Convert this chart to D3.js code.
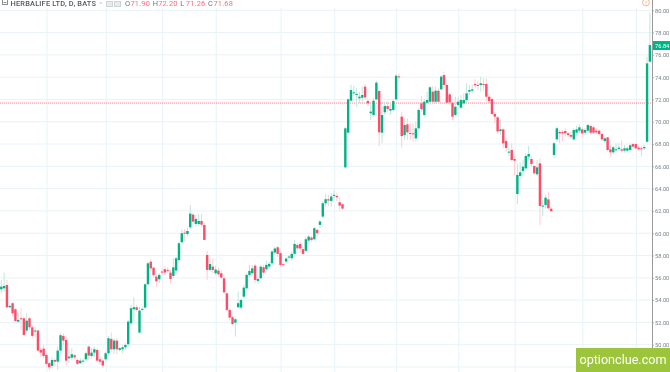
<!DOCTYPE html>
<html>
<head>
<meta charset="utf-8">
<script src="https://cdn.jsdelivr.net/npm/d3@7"></script>
<style>
  html, body { margin: 0; padding: 0; background: #fff; overflow: hidden; }
  svg { display: block; filter: blur(0.3px); }
  text { font-family: Roboto, sans-serif; }
</style>
</head>
<body>
<svg id="chart" width="670" height="372"></svg>
<script>
// Daily candles, oldest first
const opens = [
  54.97,55.06,55.36,53.36,53.72,53.18,52.07,52.37,52.37,51.27,
  52.37,51.56,51.18,51.27,49.53,49.65,49.08,48.34,48.10,48.63,
  48.48,49.47,50.79,50.43,48.78,48.84,49.05,48.63,48.34,48.48,
  48.69,49.83,48.99,49.29,49.53,48.69,48.57,48.69,49.23,50.52,
  49.59,50.37,49.53,49.59,49.77,50.04,51.92,53.18,53.36,51.09,
  53.15,53.33,55.42,57.45,56.91,56.11,55.87,56.56,56.77,56.71,
  56.47,56.17,56.65,57.60,59.19,60.05,59.93,60.53,61.67,60.83,
  60.83,61.10,60.74,58.05,56.71,57.00,56.41,56.65,56.41,55.96,
  54.61,53.12,52.46,51.98,53.36,53.33,54.31,55.06,56.26,56.41,
  57.09,55.72,55.96,56.95,56.77,57.01,57.31,58.27,58.74,58.21,
  57.22,57.46,57.82,57.76,58.15,58.95,59.04,58.57,58.42,59.34,
  59.61,59.46,60.30,60.75,61.49,62.69,63.05,62.90,63.35,63.35,
  62.78,62.60,65.91,69.02,71.89,72.55,72.40,72.10,72.16,73.15,
  71.86,70.76,70.61,72.01,72.76,69.02,70.85,71.41,71.00,71.06,
  72.01,74.07,70.46,68.81,69.77,68.99,68.96,68.51,69.41,71.65,
  70.61,71.71,71.80,72.70,71.80,72.79,72.91,74.19,73.30,72.46,
  71.71,70.61,71.50,71.26,71.65,71.95,72.70,72.79,73.39,73.30,
  73.30,73.39,73.39,72.25,72.04,70.70,70.40,69.17,69.32,68.28,
  67.23,67.47,66.66,63.52,65.14,65.58,65.82,66.87,66.66,66.03,
  65.29,66.27,62.39,62.54,63.04,62.20,67.02,68.42,69.08,69.08,
  69.17,68.96,68.81,68.42,69.02,69.20,69.32,69.02,69.20,69.62,
  69.50,69.20,69.20,68.90,68.27,68.60,67.53,67.26,67.47,67.56,
  67.53,67.41,67.41,67.47,68.00,68.00,67.68,67.62,67.62,68.21,
  75.39
]
const highs = [
  55.81,56.47,55.81,53.57,53.87,53.27,52.82,53.27,52.52,52.82,
  52.52,51.68,51.62,51.33,49.68,49.98,49.23,48.49,48.87,48.78,
  49.83,51.03,51.03,50.67,49.68,49.68,49.17,48.78,48.78,48.78,
  49.38,49.98,49.68,49.83,49.65,48.93,48.78,49.38,50.79,51.09,
  50.58,50.58,49.83,49.98,50.13,52.22,53.57,54.25,53.57,53.42,
  53.42,55.51,57.45,57.66,57.00,56.26,56.41,56.85,57.06,56.94,
  56.71,57.75,57.90,59.25,60.35,60.35,60.53,62.53,61.79,61.64,
  61.73,61.73,60.89,58.41,57.75,57.75,57.06,56.94,56.71,56.05,
  54.67,53.27,52.58,52.37,54.76,54.16,55.36,56.41,57.15,57.15,
  57.24,56.05,57.16,57.16,57.55,57.46,58.50,58.80,58.86,58.36,
  57.37,57.85,58.06,58.36,59.40,59.10,59.25,58.74,59.70,59.85,
  59.76,60.60,60.45,61.20,62.84,63.53,63.44,63.59,63.83,63.59,
  63.23,62.69,69.56,72.10,73.30,73.21,73.00,72.70,73.15,73.39,
  72.10,71.65,72.10,73.69,72.85,71.35,71.80,71.80,71.71,72.01,
  74.28,74.28,70.91,70.31,70.31,69.86,69.86,70.01,71.21,72.31,
  72.01,72.70,73.21,73.21,73.15,73.00,74.19,74.49,73.45,72.61,
  71.80,72.25,72.25,72.40,72.55,73.45,73.30,73.30,73.81,73.69,
  74.05,73.90,73.90,72.55,72.19,70.91,70.52,70.16,69.41,68.51,
  67.71,68.07,66.87,66.27,66.33,66.57,67.17,67.83,66.87,66.12,
  66.57,66.72,62.98,63.43,63.73,62.40,68.21,69.56,69.26,69.26,
  69.41,69.11,69.11,69.41,69.62,69.77,69.50,69.44,69.80,69.74,
  69.68,69.41,69.32,69.02,68.66,68.66,67.92,67.83,68.07,68.07,
  68.30,67.92,67.77,68.07,68.12,68.12,67.83,67.83,67.92,75.84,
  79.72
]
const lows = [
  54.61,54.76,53.27,53.27,52.52,52.07,51.92,51.33,50.79,51.03,
  51.33,50.58,50.67,49.38,48.93,48.78,48.04,47.68,47.89,48.04,
  47.74,49.23,49.98,48.19,48.34,48.63,48.69,48.19,48.28,48.34,
  48.48,48.63,48.78,48.93,48.48,48.19,47.89,48.48,49.08,49.38,
  49.17,49.17,49.38,49.23,49.53,49.83,51.77,52.07,52.97,51.03,
  52.97,53.27,55.36,56.56,56.05,55.21,55.51,56.17,56.26,56.41,
  55.45,55.96,56.41,57.45,59.10,59.25,59.70,60.35,60.74,60.59,
  60.65,60.59,59.40,55.81,56.56,56.41,56.26,56.11,55.87,54.55,
  52.97,52.16,51.77,50.73,53.27,53.18,54.16,54.91,56.05,56.26,
  55.51,55.51,55.87,56.26,56.56,56.77,57.16,58.21,57.85,57.01,
  57.01,57.25,57.67,57.55,58.03,58.50,58.27,58.03,58.27,59.22,
  59.25,59.34,59.70,60.45,61.35,62.39,62.45,62.39,63.05,62.84,
  62.03,62.09,65.82,68.96,71.80,72.31,71.35,71.65,71.80,72.01,
  71.41,70.16,70.46,71.89,67.83,68.07,70.61,70.91,70.61,70.91,
  71.89,73.60,67.68,68.37,68.37,68.37,68.22,68.22,69.26,70.91,
  70.46,71.59,71.50,71.65,71.65,71.65,72.85,73.00,71.65,71.50,
  70.16,70.46,71.20,71.12,71.50,71.80,72.40,72.55,73.00,72.85,
  72.70,72.79,71.89,71.65,70.61,69.86,68.90,68.81,67.62,67.32,
  66.93,66.42,65.23,62.63,64.93,65.23,65.67,66.63,65.97,65.23,
  65.14,60.74,61.55,62.24,62.09,61.90,66.72,68.21,68.07,68.21,
  68.66,68.60,68.51,68.30,68.81,68.96,68.60,68.81,69.02,68.87,
  68.90,68.90,68.72,68.30,68.12,67.32,66.87,67.08,67.32,67.41,
  67.23,67.23,67.29,67.32,67.62,67.47,67.41,66.93,67.47,68.07,
  75.24
]
const closes = [
  55.21,55.27,53.36,53.48,52.82,52.13,52.22,52.31,50.88,52.16,
  51.56,50.79,51.27,49.47,49.29,48.99,48.28,47.98,48.63,48.48,
  49.47,50.85,50.37,48.57,48.93,49.14,48.87,48.28,48.57,48.57,
  49.23,49.02,49.29,49.59,48.57,48.48,48.13,49.23,50.58,49.59,
  50.37,49.59,49.68,49.77,49.98,52.07,53.27,53.36,53.12,53.06,
  53.21,55.42,57.30,56.85,56.26,55.69,56.26,56.47,56.47,56.62,
  55.90,56.94,57.75,59.10,60.00,59.96,60.20,61.76,61.04,61.28,
  61.10,60.77,59.40,56.71,57.24,56.71,56.74,56.32,56.02,54.70,
  53.12,52.43,51.86,52.28,53.72,54.01,55.12,56.26,56.62,56.85,
  55.81,55.90,57.00,56.47,57.16,57.25,58.36,58.63,58.15,57.16,
  57.13,57.73,57.91,58.15,59.04,58.65,58.63,58.15,59.46,59.70,
  59.40,60.45,60.00,61.05,62.69,63.05,62.93,63.29,63.44,63.23,
  62.48,62.21,69.41,72.01,72.85,72.64,72.50,72.25,72.40,72.19,
  71.65,70.91,71.89,73.51,69.05,70.61,71.41,71.15,71.15,71.86,
  74.13,73.99,68.72,69.71,69.05,68.90,68.90,69.41,71.06,71.12,
  71.80,71.95,73.09,71.80,72.79,71.80,74.05,73.30,71.71,71.74,
  70.46,71.35,71.80,71.95,71.95,72.55,72.85,72.91,73.27,73.21,
  73.45,73.36,72.25,71.86,70.70,70.46,69.14,69.32,68.07,67.65,
  67.32,66.57,66.51,65.23,65.47,65.97,66.93,67.11,66.21,65.38,
  65.91,62.45,62.48,63.19,62.24,61.98,68.07,69.41,68.96,68.96,
  68.96,68.81,68.66,69.26,69.32,69.50,68.96,69.26,69.71,69.02,
  69.02,69.05,68.90,68.42,68.51,67.47,67.26,67.71,67.53,67.68,
  67.41,67.62,67.62,67.89,67.77,67.62,67.53,67.53,67.74,75.24,
  76.88
]

const priceTicks = [48, 50, 52, 54, 56, 58, 60, 62, 64, 66, 68, 70, 72, 74, 76, 78, 80]
const monthStarts = [16, 37, 57, 76, 99, 118, 140, 162, 182, 206, 225] // candle index of each vertical grid line
const lastClose = 71.68 // dotted line
const lastPrice = 76.84 // green label on the axis
const legendTitle = 'HERBALIFE LTD, D, BATS'
const legendValues = [['O', '71.90'], ['H', '72.20'], ['L', '71.26'], ['C', '71.68']]

const upColor = '#00b385'
const downColor = '#ff4a68'
const upWick = '#bfe6dc'
const downWick = '#ffcdd5'
const gridColor = '#e8f3f7'
const bodyWidth = 2.4

const svg = d3.select('#chart')

const x = d3.scaleLinear().domain([0, opens.length - 1]).range([1.3, 649.9])
const y = d3.scaleLinear().domain([50, 80]).range([344.7, 10.3])

// Grid
svg.append('g').selectAll('line')
  .data(priceTicks)
  .enter().append('line')
    .attr('x1', 0).attr('x2', 652)
    .attr('y1', (d) => y(d)).attr('y2', (d) => y(d))
    .attr('stroke', gridColor)

svg.append('g').selectAll('line')
  .data(monthStarts)
  .enter().append('line')
    .attr('x1', (d) => x(d) + 0.6).attr('x2', (d) => x(d) + 0.6)
    .attr('y1', 8).attr('y2', 372)
    .attr('stroke', gridColor)

// Dotted line at the last close of the cursor bar
svg.append('line')
  .attr('x1', 0).attr('x2', 652)
  .attr('y1', y(lastClose)).attr('y2', y(lastClose))
  .attr('stroke', downColor)
  .attr('stroke-opacity', 0.7)
  .attr('stroke-dasharray', '1 1')

// Candles
const candles = svg.append('g').selectAll('g')
  .data(d3.range(opens.length))
  .enter().append('g')

candles.append('line')
  .attr('x1', (i) => x(i)).attr('x2', (i) => x(i))
  .attr('y1', (i) => y(highs[i])).attr('y2', (i) => y(lows[i]))
  .attr('stroke', (i) => closes[i] >= opens[i] ? upWick : downWick)

candles.append('rect')
  .attr('x', (i) => x(i) - bodyWidth / 2)
  .attr('width', bodyWidth)
  .attr('y', (i) => y(Math.max(opens[i], closes[i])))
  .attr('height', (i) => Math.max(1, Math.abs(y(opens[i]) - y(closes[i]))))
  .attr('fill', (i) => closes[i] >= opens[i] ? upColor : downColor)

// Price axis
const axis = d3.axisRight(y)
  .tickValues(priceTicks.filter((d) => d >= 50))
  .tickFormat(d3.format('.2f'))
  .tickSize(2)
  .tickPadding(1)

const axisG = svg.append('g')
  .attr('transform', 'translate(652,0)')
  .call(axis)
axisG.select('.domain').remove()
axisG.selectAll('line').attr('stroke', '#b5b5b5')
axisG.selectAll('text')
  .attr('fill', '#76828a')
  .style('font-size', '5.7px')

svg.append('line')
  .attr('x1', 652.5).attr('x2', 652.5)
  .attr('y1', 0).attr('y2', 372)
  .attr('stroke', '#9a9a9a')

svg.append('rect')
  .attr('x', 653).attr('width', 17)
  .attr('y', y(lastPrice) - 4.5).attr('height', 9)
  .attr('fill', upColor)
svg.append('text')
  .attr('x', 655).attr('y', y(lastPrice) + 2.1)
  .attr('fill', '#fff')
  .style('font-size', '5.7px')
  .text(d3.format('.2f')(lastPrice))

// Orange marker cut by the top edge
svg.append('circle')
  .attr('cx', 646).attr('cy', 2.5).attr('r', 3.4)
  .attr('fill', '#fff').attr('stroke', '#f6b78a')
svg.append('text')
  .attr('x', 646).attr('y', 5)
  .attr('text-anchor', 'middle')
  .attr('fill', '#f0a06a')
  .style('font-size', '6px')
  .text('!')

// Legend strip
svg.append('rect')
  .attr('x', 2.5).attr('y', -0.5).attr('width', 5).attr('height', 5)
  .attr('fill', 'none').attr('stroke', '#8a8f94')
svg.append('line')
  .attr('x1', 3.5).attr('x2', 6.5).attr('y1', 2.5).attr('y2', 2.5)
  .attr('stroke', '#8a8f94')

svg.append('text')
  .attr('x', 10.5).attr('y', 6)
  .attr('fill', '#4f5860')
  .style('font-size', '7.4px')
  .style('font-weight', 500)
  .style('letter-spacing', '0.2px')
  .text(legendTitle)

svg.append('path')
  .attr('d', 'M99 2.5h3.5l-1.75 1.6z')
  .attr('fill', '#c4c8cc')

svg.append('g').selectAll('rect')
  .data([106, 114])
  .enter().append('rect')
    .attr('x', (d) => d + 0.5).attr('y', 1.5).attr('width', 6).attr('height', 5)
    .attr('fill', '#e9ebed').attr('stroke', '#cfd3d6')

const legendX = d3.scaleLinear().domain([0, 3]).range([125, 208])
legendValues.forEach(([key, val], i) => {
  svg.append('text')
    .attr('x', legendX(i)).attr('y', 6)
    .attr('fill', '#6d767d')
    .style('font-size', '7.4px')
    .text(key)
  svg.append('text')
    .attr('x', legendX(i) + 5.5).attr('y', 6)
    .attr('fill', '#fb6b80')
    .style('font-size', '7.4px')
    .style('letter-spacing', '0.2px')
    .text(val)
})

// Watermark
svg.append('rect')
  .attr('x', 576).attr('y', 348).attr('width', 94).attr('height', 24)
  .attr('fill', '#9cc53c')
svg.append('text')
  .attr('x', 579.5).attr('y', 364)
  .attr('fill', '#fff')
  .style('font-size', '12.6px')
  .text('optionclue.com')
</script>
</body>
</html>
